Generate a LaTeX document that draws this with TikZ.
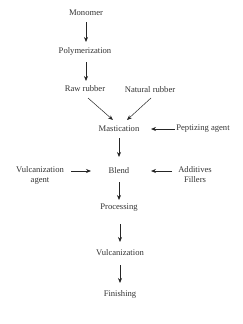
\documentclass[tikz,border=0pt]{standalone}
\usepackage{fontspec}
\setmainfont{Liberation Serif}
\usetikzlibrary{arrows.meta}
\begin{document}
\begin{tikzpicture}[x=1pt,y=-1pt,
  lbl/.style={inner sep=0pt,font=\fontsize{8.6}{10}\selectfont,text=black!80,align=center},
  arr/.style={-{Stealth[length=5pt,width=4pt]},line width=0.7pt,black!85}]
\useasboundingbox (0,0) rectangle (242,324);
\node[lbl] (mono) at (86,13) {Monomer};
\node[lbl] (poly) at (85,51) {Polymerization};
\node[lbl] (raw) at (85,89) {Raw rubber};
\node[lbl] (nat) at (150,90) {Natural rubber};
\node[lbl] (mast) at (119,129) {Mastication};
\node[lbl] (pept) at (203,129) {Peptizing agent};
\node[lbl] (blend) at (119,171) {Blend};
\node[lbl] (vagent) at (40,175) {Vulcanization\\agent};
\node[lbl] (add) at (195,175) {Additives\\Fillers};
\node[lbl] (proc) at (119,208) {Processing};
\node[lbl] (vulc) at (120,253) {Vulcanization};
\node[lbl] (fin) at (120,294) {Finishing};
\coordinate (a1) at (86,22); \coordinate (a2) at (86,42);
\coordinate (b1) at (86,62); \coordinate (b2) at (86,81);
\coordinate (c1) at (88,98); \coordinate (c2) at (113,120);
\coordinate (d1) at (151,98); \coordinate (d2) at (127,120);
\coordinate (e1) at (175,129); \coordinate (e2) at (151,129);
\coordinate (f1) at (119,138); \coordinate (f2) at (119,157);
\coordinate (g1) at (71,171); \coordinate (g2) at (91,171);
\coordinate (h1) at (172,171); \coordinate (h2) at (151,171);
\coordinate (i1) at (119,182); \coordinate (i2) at (119,200);
\coordinate (j1) at (120,224); \coordinate (j2) at (120,242);
\coordinate (k1) at (120,265); \coordinate (k2) at (120,283);
\draw[arr] (a1) -- (a2);
\draw[arr] (b1) -- (b2);
\draw[arr,line width=0.5pt] (c1) -- (c2);
\draw[arr,line width=0.5pt] (d1) -- (d2);
\draw[arr] (e1) -- (e2);
\draw[arr] (f1) -- (f2);
\draw[arr] (g1) -- (g2);
\draw[arr] (h1) -- (h2);
\draw[arr] (i1) -- (i2);
\draw[arr] (j1) -- (j2);
\draw[arr] (k1) -- (k2);
\end{tikzpicture}
\end{document}
